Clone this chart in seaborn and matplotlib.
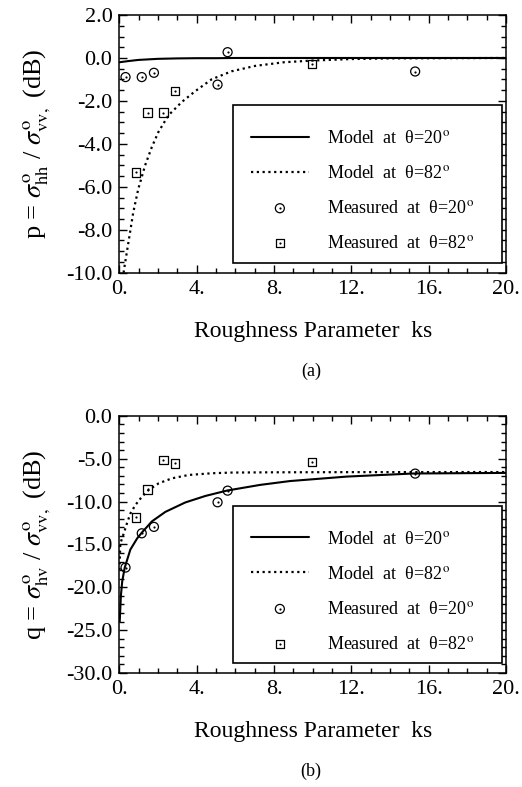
import numpy as np
import matplotlib
matplotlib.use("Agg")
import matplotlib.pyplot as plt
from matplotlib.ticker import MultipleLocator
from matplotlib.patches import Rectangle
import seaborn as sns

# measured points (same ks for both panels)
ks_20 = [0.32, 1.16, 1.79, 5.08, 5.6, 15.3]
p_20 = [-0.89, -0.89, -0.69, -1.24, 0.27, -0.63]
q_20 = [-17.7, -13.7, -12.95, -10.08, -8.72, -6.73]

ks_82 = [0.85, 1.46, 2.28, 2.89, 9.96]
p_82 = [-5.33, -2.54, -2.54, -1.55, -0.29]
q_82 = [-11.85, -8.58, -5.17, -5.54, -5.41]

# model curves
ks_mod_p20 = [0, 0.5, 1, 2, 3, 4, 5, 6, 8, 10, 20]
p_mod_20 = [-0.2, -0.14, -0.09, -0.04, -0.02, -0.01, -0.01, 0, 0, 0, 0]

ks_mod_p82 = [0.22, 0.26, 0.47, 0.72, 0.98, 1.33, 1.68, 2.02, 2.54, 3.23, 3.92,
              4.78, 5.81, 7.02, 8.5, 10.0, 12.0, 14.0, 20.0]
p_mod_82 = [-10.0, -9.76, -8.59, -7.19, -6.10, -5.01, -4.15, -3.45, -2.67, -2.05, -1.55,
            -0.99, -0.62, -0.37, -0.2, -0.12, -0.05, -0.02, 0.0]

ks_mod_q20 = [0.02, 0.08, 0.15, 0.28, 0.57, 0.92, 1.17, 1.69, 2.38, 3.41, 4.45,
              5.57, 7.28, 8.83, 11.76, 15.2, 20.0]
q_mod_20 = [-24.0, -21.0, -19.3, -17.7, -15.6, -14.3, -13.6, -12.3, -11.2, -10.1, -9.34,
            -8.71, -8.05, -7.6, -7.08, -6.72, -6.65]

ks_mod_q82 = [0.01, 0.05, 0.23, 0.40, 0.57, 0.83, 1.17, 1.52, 2.04, 2.73, 3.59,
              4.80, 5.83, 8.0, 12.0, 20.0]
q_mod_82 = [-18.0, -14.9, -13.7, -12.5, -11.4, -10.4, -9.42, -8.64, -7.86, -7.28, -6.89,
            -6.69, -6.61, -6.58, -6.56, -6.55]

x_ticks = [0, 4, 8, 12, 16, 20]
x_ticklabels = ['0.', '4.', '8.', '12.', '16.', '20.']
p_ticks = [2, 0, -2, -4, -6, -8, -10]
p_ticklabels = ['2.0', '0.0', '-2.0', '-4.0', '-6.0', '-8.0', '-10.0']
q_ticks = [0, -5, -10, -15, -20, -25, -30]
q_ticklabels = ['0.0', '-5.0', '-10.0', '-15.0', '-20.0', '-25.0', '-30.0']

legend_labels = ['Model  at  θ=20$^{\\rm o}$',
                 'Model  at  θ=82$^{\\rm o}$',
                 'Measured  at  θ=20$^{\\rm o}$',
                 'Measured  at  θ=82$^{\\rm o}$']

sns.set_theme(style='ticks')
plt.rcParams['font.family'] = ['Liberation Serif', 'DejaVu Serif']
plt.rcParams['mathtext.fontset'] = 'stix'
plt.rcParams['axes.edgecolor'] = 'black'
plt.rcParams['xtick.color'] = 'black'
plt.rcParams['ytick.color'] = 'black'
plt.rcParams['text.color'] = 'black'
plt.rcParams['axes.labelcolor'] = 'black'


def draw_panel(ax, ks_m20, y_m20, ks_m82, y_m82, y_20, y_82):
    sns.lineplot(x=ks_m20, y=y_m20, color='black', linewidth=1.5, sort=False,
                 estimator=None, ax=ax)
    h1 = ax.lines[-1]
    sns.lineplot(x=ks_m82, y=y_m82, color='black', linewidth=1.6, sort=False,
                 estimator=None, ax=ax)
    h2 = ax.lines[-1]
    h2.set_linestyle((0, (1, 1.6)))
    sns.scatterplot(x=ks_20, y=y_20, marker='o', s=42, facecolor='none',
                    edgecolor='black', linewidth=0.9, ax=ax, zorder=3)
    c1 = ax.collections[-1]
    sns.scatterplot(x=ks_20, y=y_20, marker='o', s=2.5, color='black',
                    linewidth=0, ax=ax, zorder=4)
    d1 = ax.collections[-1]
    sns.scatterplot(x=ks_82, y=y_82, marker='s', s=36, facecolor='none',
                    edgecolor='black', linewidth=0.9, ax=ax, zorder=3)
    c2 = ax.collections[-1]
    sns.scatterplot(x=ks_82, y=y_82, marker='o', s=2.5, color='black',
                    linewidth=0, ax=ax, zorder=4)
    d2 = ax.collections[-1]

    # legend box drawn separately so the rows can sit where they do in the original
    box = (0.294, 0.038, 0.695, 0.613)
    ax.add_patch(Rectangle(box[:2], box[2], box[3], transform=ax.transAxes,
                           facecolor='white', edgecolor='black', linewidth=1.2,
                           zorder=5))
    leg = ax.legend([h1, h2, (c1, d1), (c2, d2)], legend_labels,
                    loc='upper left', bbox_to_anchor=(0.276, 0.038, 0.713, 0.613),
                    mode='expand', borderaxespad=0, fontsize=13,
                    handlelength=3.2, handletextpad=1.0, labelspacing=1.0,
                    borderpad=1.38, frameon=False)
    leg.set_zorder(6)

    ax.set_xlim(0, 20)
    ax.set_xticks(x_ticks)
    ax.set_xticklabels(x_ticklabels)
    ax.xaxis.set_minor_locator(MultipleLocator(1))
    ax.set_xlabel('Roughness Parameter  ks', fontsize=17, labelpad=16)
    ax.tick_params(which='both', direction='in', top=True, right=True,
                   labelsize=16, width=1.0, pad=5)
    ax.tick_params(which='major', length=6)
    ax.tick_params(which='minor', length=3.5)
    for sp in ax.spines.values():
        sp.set_linewidth(1.1)
        sp.set_visible(True)
        sp.set_zorder(7)


fig = plt.figure(figsize=(5.22, 7.87), dpi=100)

ax1 = fig.add_axes([0.2286, 0.6535, 0.7408, 0.3274])
draw_panel(ax1, ks_mod_p20, p_mod_20, ks_mod_p82, p_mod_82, p_20, p_82)
ax1.set_ylim(-10, 2)
ax1.set_yticks(p_ticks)
ax1.set_yticklabels(p_ticklabels)
ax1.yaxis.set_minor_locator(MultipleLocator(0.5))
ax1.set_ylabel(r'p = $\sigma^{\rm o}_{\rm hh}$ / $\sigma^{\rm o}_{\rm vv,}$ (dB)', fontsize=19)
ax1.yaxis.set_label_coords(-0.172, 0.5)

ax2 = fig.add_axes([0.2286, 0.1449, 0.7408, 0.3266])
draw_panel(ax2, ks_mod_q20, q_mod_20, ks_mod_q82, q_mod_82, q_20, q_82)
ax2.set_ylim(-30, 0)
ax2.set_yticks(q_ticks)
ax2.set_yticklabels(q_ticklabels)
ax2.yaxis.set_minor_locator(MultipleLocator(1))
ax2.set_ylabel(r'q = $\sigma^{\rm o}_{\rm hv}$ / $\sigma^{\rm o}_{\rm vv,}$ (dB)', fontsize=19)
ax2.yaxis.set_label_coords(-0.172, 0.5)

fig.text(0.596, 1 - 371 / 787, '(a)', ha='center', va='center', fontsize=13)
fig.text(0.596, 1 - 771 / 787, '(b)', ha='center', va='center', fontsize=13)

fig.savefig('out.png', dpi=100)
